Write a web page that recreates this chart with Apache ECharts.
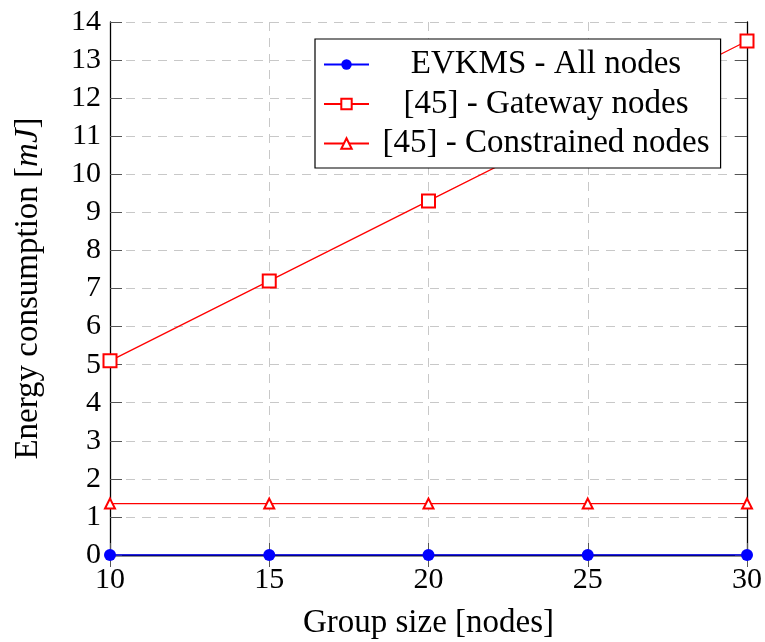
<!DOCTYPE html>
<html>
<head>
<meta charset="utf-8">
<script src="https://cdn.jsdelivr.net/npm/echarts@6/dist/echarts.min.js"></script>
<style>
  html, body { margin: 0; padding: 0; background: #fff; }
  #chart { width: 765px; height: 642px; }
</style>
</head>
<body>
<div id="chart"></div>
<script>
// Group sizes (x axis)
const groupSizes = [10, 15, 20, 25, 30];
// Energy consumption per series [mJ]
const evkmsAll = [0, 0, 0, 0, 0];
const gatewayNodes = [5.1, 7.2, 9.3, 11.4, 13.5];
const constrainedNodes = [1.35, 1.35, 1.35, 1.35, 1.35];

const seriesNames = ['EVKMS - All nodes', '[45] - Gateway nodes', '[45] - Constrained nodes'];
const xTicks = [10, 15, 20, 25, 30];

const FONT = 'Liberation Serif';
const pairs = vals => groupSizes.map((g, i) => [g, vals[i]]);

const chart = echarts.init(document.getElementById('chart'));

const gridLine = { show: true, lineStyle: { color: '#c8c8c8', width: 1, type: [9, 7] } };
const axisLine = { show: true, lineStyle: { color: '#000', width: 1.3 } };
const tickIn = { show: true, inside: true, length: 12, lineStyle: { color: '#555', width: 1 } };

chart.setOption({
  animation: false,
  backgroundColor: '#fff',
  grid: { left: 110, top: 22, right: 18, bottom: 87, outerBoundsMode: 'none', containLabel: false },
  xAxis: [{
    type: 'value', min: 10, max: 30, interval: 5,
    position: 'bottom',
    name: 'Group size [nodes]', nameLocation: 'middle', nameGap: 52,
    nameTextStyle: { fontFamily: FONT, fontSize: 33, color: '#000' },
    axisLine, axisTick: tickIn, splitLine: gridLine,
    axisLabel: { fontFamily: FONT, fontSize: 30, color: '#000', margin: 10,
      formatter: v => xTicks.includes(v) ? String(v) : '' }
  }, {
    type: 'value', min: 10, max: 30, interval: 5, position: 'top',
    axisLine, axisTick: tickIn, splitLine: { show: false }, axisLabel: { show: false }
  }],
  yAxis: [{
    type: 'value', min: 0, max: 14, interval: 1,
    position: 'left',
    name: 'Energy consumption [{i|mJ}]', nameLocation: 'middle', nameGap: 65, nameRotate: 90,
    nameTextStyle: { fontFamily: FONT, fontSize: 33, color: '#000',
      rich: { i: { fontFamily: FONT, fontSize: 33, fontStyle: 'italic', color: '#000' } } },
    axisLine, axisTick: tickIn, splitLine: gridLine,
    axisLabel: { fontFamily: FONT, fontSize: 30, color: '#000', margin: 9 }
  }, {
    type: 'value', min: 0, max: 14, interval: 1, position: 'right',
    axisLine, axisTick: tickIn, splitLine: { show: false }, axisLabel: { show: false }
  }],
  legend: {
    orient: 'vertical', left: 315, top: 39,
    padding: [9, 11, 8, 8],
    itemWidth: 45, itemHeight: 13, itemGap: 6.5, itemTextGap: 5,
    backgroundColor: '#fff', borderColor: '#000', borderWidth: 1.2, borderRadius: 0,
    data: seriesNames,
    formatter: name => '{t|' + name + '}',
    textStyle: {
      rich: { t: { width: 344, align: 'center',
        fontFamily: FONT, fontSize: 33, color: '#000' } }
    }
  },
  series: [{
    name: seriesNames[0], type: 'line', data: pairs(evkmsAll),
    symbol: 'circle', symbolSize: 12,
    lineStyle: { color: '#0000ff', width: 1.3 },
    itemStyle: { color: '#0000ff' }
  }, {
    name: seriesNames[1], type: 'line', data: pairs(gatewayNodes),
    symbol: 'emptyRect', symbolSize: 13,
    lineStyle: { color: '#ff0000', width: 1.3 },
    itemStyle: { color: '#ff0000', borderWidth: 1.2 }
  }, {
    name: seriesNames[2], type: 'line', data: pairs(constrainedNodes),
    symbol: 'emptyTriangle', symbolSize: 10,
    lineStyle: { color: '#ff0000', width: 1.3 },
    itemStyle: { color: '#ff0000', borderWidth: 1.2 }
  }]
});
</script>
</body>
</html>
